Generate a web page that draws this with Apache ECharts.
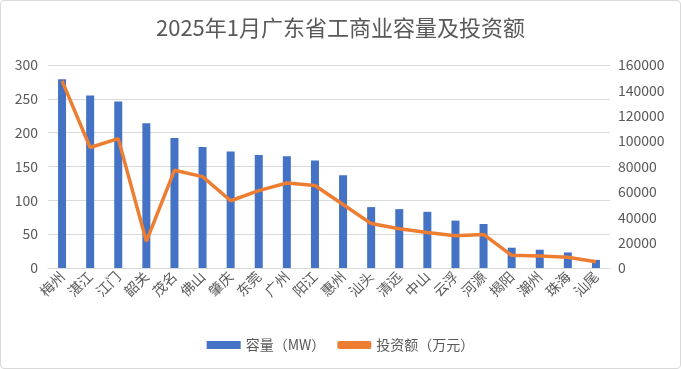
<!DOCTYPE html>
<html><head><meta charset="utf-8">
<script src="https://cdn.jsdelivr.net/npm/echarts@6/dist/echarts.min.js"></script>
<style>html,body{margin:0;padding:0;background:#fff}#c{width:679px;height:367px;border:1px solid #d9d9d9;border-radius:4px}</style>
</head><body><div id="c"></div>
<script>
const categories = ['梅州','湛江','江门','韶关','茂名','佛山','肇庆','东莞','广州','阳江','惠州','汕头','清远','中山','云浮','河源','揭阳','潮州','珠海','汕尾'];
const capacity = [279,255,246,214,192,179,172,167,165,159,137,90,87,83,70,65,30,27,23,12];
const investment = [147500,95000,102000,21000,77000,72000,53000,61000,67000,65000,50000,35000,31000,28000,25500,26500,10000,9500,8500,5000];
const font = '"Noto Sans CJK SC", sans-serif';
const chart = echarts.init(document.getElementById('c'));
chart.setOption({
  animation:false,
  title:{text:'2025年1月广东省工商业容量及投资额',left:'center',top:11,textStyle:{fontFamily:font,fontSize:22,fontWeight:'normal',color:'#595959'}},
  legend:{bottom:11,left:'center',itemGap:12,textStyle:{fontFamily:font,fontSize:14,color:'#595959'},
    data:[{name:'容量（MW）',icon:'rect',itemWidth:34,itemHeight:8},{name:'投资额（万元）',icon:'roundRect',itemWidth:34,itemHeight:4}],itemWidth:34,itemHeight:8},
  grid:{left:47,right:70,top:64,bottom:100},
  xAxis:{type:'category',data:categories,axisTick:{show:false},axisLine:{lineStyle:{color:'#d9d9d9'}},
    axisLabel:{rotate:45,interval:0,fontFamily:font,fontSize:14,color:'#595959',margin:6}},
  yAxis:[
    {type:'value',min:0,max:300,interval:50,axisLabel:{fontFamily:font,fontSize:14,color:'#595959',margin:10},splitLine:{lineStyle:{color:'#d9d9d9'}},axisLine:{show:false}},
    {type:'value',min:0,max:160000,interval:20000,axisLabel:{fontFamily:font,fontSize:14,color:'#595959',margin:8,formatter:v=>String(v)},splitLine:{show:false},axisLine:{show:false}}
  ],
  series:[
    {name:'容量（MW）',type:'bar',data:capacity,barWidth:8,itemStyle:{color:'#4472C4'}},
    {name:'投资额（万元）',type:'line',yAxisIndex:1,data:investment,symbol:'none',lineStyle:{color:'#ED7D31',width:3.5},itemStyle:{color:'#ED7D31'}}
  ]
});
</script></body></html>
